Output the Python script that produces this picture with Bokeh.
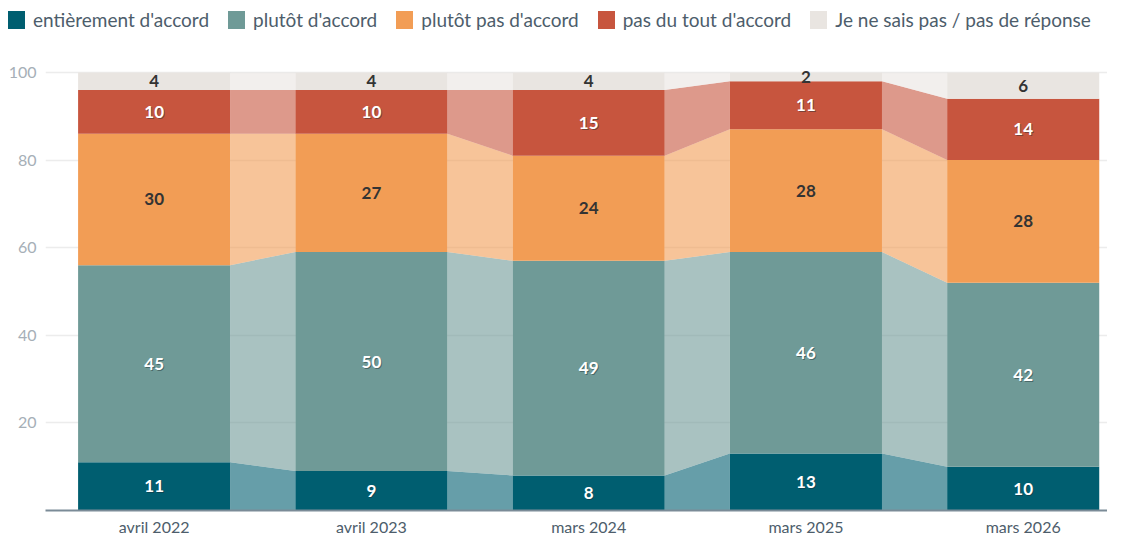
from bokeh.plotting import figure
from bokeh.layouts import column
from bokeh.models import Range1d, FixedTicker, ColumnDataSource, Div
from bokeh.core.properties import value
from bokeh.embed import file_html
from bokeh.resources import INLINE

periods = ["avril 2022", "avril 2023", "mars 2024", "mars 2025", "mars 2026"]
entierement = [11, 9, 8, 13, 10]
plutot = [45, 50, 49, 46, 42]
plutot_pas = [30, 27, 24, 28, 28]
pas_du_tout = [10, 10, 15, 11, 14]
nsp = [4, 4, 4, 2, 6]

series_names = ["entièrement d'accord", "plutôt d'accord", "plutôt pas d'accord",
                "pas du tout d'accord", "Je ne sais pas / pas de réponse"]
series_vals = [entierement, plutot, plutot_pas, pas_du_tout, nsp]
colors = ["#005e70", "#6f9a97", "#f29d55", "#c7553e", "#e9e5e1"]
label_colors = ["white", "white", "#333333", "white", "#333333"]

FONT = "Lato"
BAR_W = 0.7
W = 1107
H_LEG = 40
H_MAIN = 498

# ---- main chart ----
p = figure(width=W, height=H_MAIN, output_backend="svg", toolbar_location=None,
           x_range=Range1d(-0.5, 4.388), y_range=Range1d(0, 101.8),
           min_border_left=45, min_border_right=0, min_border_top=24, min_border_bottom=24)
p.outline_line_color = None
p.background_fill_color = "white"
p.border_fill_color = "white"

xs = list(range(len(periods)))
bottoms = [0] * len(periods)
for name, vals, col in zip(series_names, series_vals, colors):
    tops = [b + v for b, v in zip(bottoms, vals)]
    pxs, pys = [], []
    for i in range(len(xs) - 1):
        x0 = xs[i] + BAR_W / 2
        x1 = xs[i + 1] - BAR_W / 2
        pxs.append([x0, x1, x1, x0])
        pys.append([bottoms[i], bottoms[i + 1], tops[i + 1], tops[i]])
    p.patches(pxs, pys, fill_color=col, fill_alpha=0.6, line_color=None)
    src = ColumnDataSource(dict(x=xs, bottom=bottoms, top=tops))
    p.vbar(x="x", bottom="bottom", top="top", width=BAR_W, source=src,
           fill_color=col, line_color=None, legend_label=name)
    bottoms = tops

bottoms = [0] * len(periods)
for vals, lc in zip(series_vals, label_colors):
    mids = [b + v / 2 for b, v in zip(bottoms, vals)]
    txt = [str(v) for v in vals]
    if lc == "white":
        p.text(x=xs, y=mids, text=txt, text_align="center", text_baseline="middle",
               text_font=value(FONT), text_font_style="bold", text_font_size="17px",
               text_color="#1a2a30", text_alpha=0.45, x_offset=1, y_offset=1)
    p.text(x=xs, y=mids, text=txt, text_align="center", text_baseline="middle",
           text_font=value(FONT), text_font_style="bold", text_font_size="17px",
           text_color=lc)
    bottoms = [b + v for b, v in zip(bottoms, vals)]

# legend is drawn as an HTML strip above the chart (needs to start left of the frame)
p.legend.visible = False

p.xaxis.ticker = FixedTicker(ticks=xs)
p.xaxis.major_label_overrides = {i: s for i, s in zip(xs, periods)}
p.xaxis.major_tick_line_color = None
p.xaxis.minor_tick_line_color = None
p.xaxis.major_tick_out = 0
p.xaxis.major_tick_in = 0
p.xaxis.axis_line_color = "#7b8b97"
p.xaxis.axis_line_width = 2
p.xaxis.major_label_text_font = FONT
p.xaxis.major_label_text_font_size = "16px"
p.xaxis.major_label_text_color = "#4d5d6b"
p.xaxis.major_label_standoff = 6

p.yaxis.ticker = FixedTicker(ticks=[20, 40, 60, 80, 100])
p.yaxis.axis_line_color = None
p.yaxis.major_tick_line_color = None
p.yaxis.minor_tick_line_color = None
p.yaxis.major_tick_out = 0
p.yaxis.major_tick_in = 0
p.yaxis.major_label_text_font = FONT
p.yaxis.major_label_text_font_size = "16px"
p.yaxis.major_label_text_color = "#a6afb7"
p.yaxis.major_label_standoff = 9

p.xgrid.grid_line_color = None
p.ygrid.grid_line_color = "#ececec"
p.ygrid.grid_line_width = 1.5

# ---- legend strip ----
parts = []
for i, (name, col) in enumerate(zip(series_names, colors)):
    gap = "0" if i == len(series_names) - 1 else "19px"
    parts.append(
        f'<span style="display:inline-block;width:17px;height:18px;background:{col};'
        f'margin-right:8px;flex:none"></span>'
        f'<span style="margin-right:{gap};white-space:nowrap">{name}</span>')
html = ('<div style="height:40px;display:flex;align-items:center;padding-left:8px;'
        f'box-sizing:border-box;font-family:{FONT};font-size:19px;color:#4d5d6b;'
        'white-space:nowrap;margin:0">' + "".join(parts) + '</div>')
leg = Div(text=html, width=W, height=H_LEG, margin=0)

layout = column(leg, p, spacing=0)
open("out.html", "w").write(file_html(layout, INLINE))
